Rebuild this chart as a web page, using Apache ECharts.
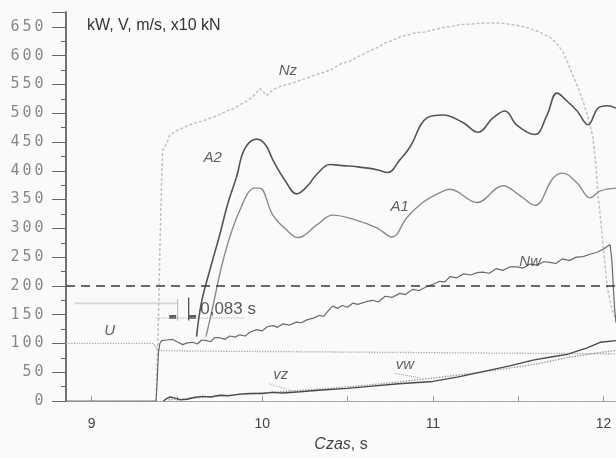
<!DOCTYPE html>
<html>
<head>
<meta charset="utf-8">
<title>Czas, s</title>
<script src="https://cdn.jsdelivr.net/npm/echarts@6/dist/echarts.min.js"></script>
<style>
  html, body { margin: 0; padding: 0; background: #fafafa; }
  #chart { width: 616px; height: 458px; }
</style>
</head>
<body>
<div id="chart"></div>
<script>
// axis ticks
var xTicks = [9, 10, 11, 12];
var xMinorTicks = [9, 9.5, 10, 10.5, 11, 11.5, 12];

// series values, [time s, value]
var nzData = [[9.378,0],[9.39,120],[9.40,260],[9.41,380],[9.416,436],[9.44,447],[9.457,462],[9.48,466],[9.499,470],[9.53,474],[9.575,480],[9.62,484],[9.674,489],[9.72,494],[9.76,499],[9.792,504],[9.83,508],[9.87,515],[9.909,521],[9.94,528],[9.965,535],[9.985,543],[10.005,538],[10.026,531],[10.06,540],[10.09,545],[10.12,548],[10.17,552],[10.22,557],[10.26,561],[10.296,565],[10.35,570],[10.413,577],[10.46,586],[10.51,590],[10.56,598],[10.613,606],[10.66,612],[10.72,622],[10.76,626],[10.806,633],[10.85,636],[10.9,640],[10.95,641],[11.0,645],[11.06,649],[11.11,651],[11.158,654],[11.22,655],[11.3,657],[11.393,657],[11.47,654],[11.551,649],[11.62,642],[11.686,632],[11.73,620],[11.762,606],[11.79,588],[11.821,565],[11.85,545],[11.88,521],[11.91,492],[11.938,458],[11.955,410],[11.968,357],[11.985,310],[11.997,272],[12.021,199],[12.045,165],[12.073,140]];
var a2Data = [[9.615,112],[9.645,173],[9.70,235],[9.751,289],[9.80,345],[9.85,390],[9.897,438],[9.968,455],[10.02,445],[10.062,419],[10.13,385],[10.202,360],[10.26,372],[10.32,394],[10.396,411],[10.47,409],[10.554,407],[10.672,402],[10.736,397],[10.806,419],[10.865,441],[10.965,492],[11.059,497],[11.176,484],[11.264,467],[11.352,492],[11.422,504],[11.493,479],[11.598,463],[11.669,497],[11.727,535],[11.79,520],[11.845,504],[11.909,480],[11.968,509],[12.021,513],[12.073,509]];
var a1Data = [[9.67,112],[9.70,150],[9.78,255],[9.868,331],[9.956,370],[9.985,370],[10.062,323],[10.14,298],[10.21,284],[10.32,306],[10.413,323],[10.554,314],[10.672,301],[10.76,285],[10.848,319],[10.941,345],[11.041,362],[11.1,368],[11.258,345],[11.411,374],[11.51,357],[11.598,340],[11.704,387],[11.762,396],[11.845,379],[11.921,353],[11.98,365],[12.073,370]];
var nwData = [[8.85,0],[9.378,0],[9.385,40],[9.392,85],[9.40,100],[9.41,105],[9.44,106],[9.475,107],[9.50,103],[9.534,98],[9.56,101],[9.592,102],[9.62,99],[9.645,106],[9.674,105],[9.70,103],[9.72,110],[9.751,110],[9.78,107],[9.81,113],[9.84,111],[9.868,115],[9.90,113],[9.93,120],[9.968,124],[10.0,122],[10.03,129],[10.062,131],[10.09,128],[10.12,134],[10.161,132],[10.2,137],[10.23,136],[10.261,141],[10.3,144],[10.337,149],[10.36,147],[10.39,158],[10.413,165],[10.44,161],[10.47,166],[10.5,163],[10.53,170],[10.56,168],[10.613,173],[10.65,175],[10.68,172],[10.72,182],[10.76,180],[10.806,187],[10.84,185],[10.88,194],[10.92,192],[10.965,199],[11.0,203],[11.04,208],[11.07,207],[11.1,216],[11.14,214],[11.18,221],[11.22,219],[11.26,223],[11.293,224],[11.33,222],[11.37,230],[11.41,227],[11.45,233],[11.493,233],[11.53,231],[11.57,238],[11.61,236],[11.65,242],[11.686,241],[11.72,239],[11.76,247],[11.8,244],[11.84,250],[11.88,251],[11.92,255],[11.96,258],[12.0,264],[12.038,272],[12.05,240],[12.056,204],[12.065,160],[12.073,136]];
var uData = [[8.85,100],[9.36,100],[9.375,95],[9.385,88],[9.5,87],[10.5,85],[11.5,83],[12.073,82]];
var vzData = [[9.45,2],[9.6,5],[9.8,10],[10.0,14],[10.2,18],[10.4,22],[10.6,27],[10.8,33],[11.0,40],[11.2,47],[11.4,55],[11.6,64],[11.8,76],[11.95,83],[12.073,88]];
var vwData = [[9.42,0],[9.44,4],[9.46,7],[9.49,5],[9.52,2],[9.56,3],[9.6,6],[9.65,8],[9.7,7],[9.75,10],[9.8,9],[9.868,12],[9.93,13],[10.0,13],[10.06,15],[10.12,14],[10.22,16],[10.35,19],[10.5,22],[10.613,25],[10.8,30],[11.0,34],[11.15,42],[11.293,51],[11.45,61],[11.587,71],[11.7,77],[11.786,81],[11.9,92],[11.98,102],[12.073,105]];

// curve names and where they are written
var labelNames = ['Nz', 'A2', 'A1', 'Nw', 'U', 'vz', 'vw'];
var labelPos = [[10.15,574],[9.71,423],[10.806,338],[11.57,241],[9.106,122],[10.108,46],[10.836,63]];
// short pointer strokes under vz and vw
var vzPointer = [[10.04,30],[10.17,18]];
var vwPointer = [[10.78,48],[10.93,40]];

// 0,083 s dimension mark
var dimText = '0,083 s';
var dimTextPos = [9.80, 160];
var dimLeft = [[9.504,140],[9.504,178]];
var dimRight = [[9.569,140],[9.569,180]];
var dimArrows = [[9.475,146],[9.592,146]];
var guide170 = [[8.9,170],[9.5,170]];
var guide145 = [[9.38,144],[9.9,144]];
var refLevel = 200;

var chart = echarts.init(document.getElementById('chart'));

function line(name, data, color, width, type, smooth) {
    return {
        name: name, type: 'line', data: data, symbol: 'none', smooth: smooth || false,
        lineStyle: {color: color, width: width, type: type || 'solid'}, silent: true, z: 3
    };
}

var uSeries = line('U', uData, '#aaa', 1.3, 'dotted');
uSeries.markLine = {
    silent: true, symbol: 'none', label: {show: false},
    lineStyle: {color: '#3a3a3a', width: 1.6, type: [9, 6]},
    data: [{yAxis: refLevel}]
};

chart.setOption({
    animation: false,
    backgroundColor: '#fafafa',
    grid: {left: 66, right: 0, top: 12, bottom: 48},
    graphic: [{
        type: 'text', left: 87, top: 18,
        style: {text: 'kW, V, m/s, x10 kN', font: '16px "Liberation Sans", Arial', fill: '#333'}
    }],
    xAxis: {
        type: 'value', min: 8.85, max: 12.073,
        name: '{i|Czas}, s', nameLocation: 'middle', nameGap: 36,
        nameTextStyle: {fontSize: 16, color: '#444', fontFamily: 'Liberation Sans',
            rich: {i: {fontStyle: 'italic', fontSize: 16, color: '#444', fontFamily: 'Liberation Sans'}}},
        axisLine: {lineStyle: {color: '#999', type: 'dotted', width: 1.2}},
        axisTick: {show: true, inside: true, length: 5, customValues: xMinorTicks, lineStyle: {color: '#999'}},
        axisLabel: {customValues: xTicks, margin: 16, fontSize: 14, color: '#444', fontFamily: 'Liberation Sans'},
        splitLine: {show: false}
    },
    yAxis: {
        type: 'value', min: 0, max: 676, interval: 50,
        axisLine: {lineStyle: {color: '#444', width: 1.5}},
        axisTick: {length: 14, lineStyle: {color: '#666'}},
        minorTick: {show: true, splitNumber: 2, length: 5, lineStyle: {color: '#666'}},
        axisLabel: {
            showMaxLabel: false, margin: 21, color: '#888',
            formatter: function (v) {
                return String(v).split('').map(function (d) { return '{d|' + d + '}'; }).join('');
            },
            rich: {d: {width: 12, align: 'center', fontSize: 15, color: '#888', fontFamily: 'DejaVu Sans Mono'}}
        },
        splitLine: {show: false}
    },
    series: [
        line('guide170', guide170, '#d8d8d8', 2),
        line('guide145', guide145, '#bbb', 1.2, 'dotted'),
        uSeries,
        line('Nz', nzData, '#c2c2c2', 1.5, [3, 2]),
        line('A2', a2Data, '#555', 1.6, 'solid', 0.4),
        line('A1', a1Data, '#8a8a8a', 1.4, 'solid', 0.4),
        line('Nw', nwData, '#6a6a6a', 1.2),
        line('vz', vzData, '#999', 1.4, 'dotted'),
        line('vw', vwData, '#4a4a4a', 1.4),
        line('vzPointer', vzPointer, '#aaa', 1, 'dotted'),
        line('vwPointer', vwPointer, '#999', 1, 'dotted'),
        line('dimL', dimLeft, '#777', 1, 'dotted'),
        line('dimR', dimRight, '#444', 1.2),
        {
            type: 'scatter', data: dimArrows, symbol: 'rect', symbolSize: [7, 4],
            itemStyle: {color: '#333'}, silent: true
        },
        {
            type: 'scatter', symbolSize: 0, silent: true, z: 5,
            data: labelPos.map(function (p, i) { return {value: p, name: labelNames[i]}; }),
            label: {
                show: true, position: 'inside', formatter: '{b}',
                fontStyle: 'italic', fontSize: 15, color: '#3a3a3a', fontFamily: 'Liberation Sans'
            }
        },
        {
            type: 'scatter', symbolSize: 0, silent: true, z: 5,
            data: [{value: dimTextPos, name: dimText}],
            label: {show: true, position: 'inside', formatter: '{b}', fontSize: 17, color: '#333', fontFamily: 'Liberation Sans'}
        }
    ]
});
</script>
</body>
</html>
